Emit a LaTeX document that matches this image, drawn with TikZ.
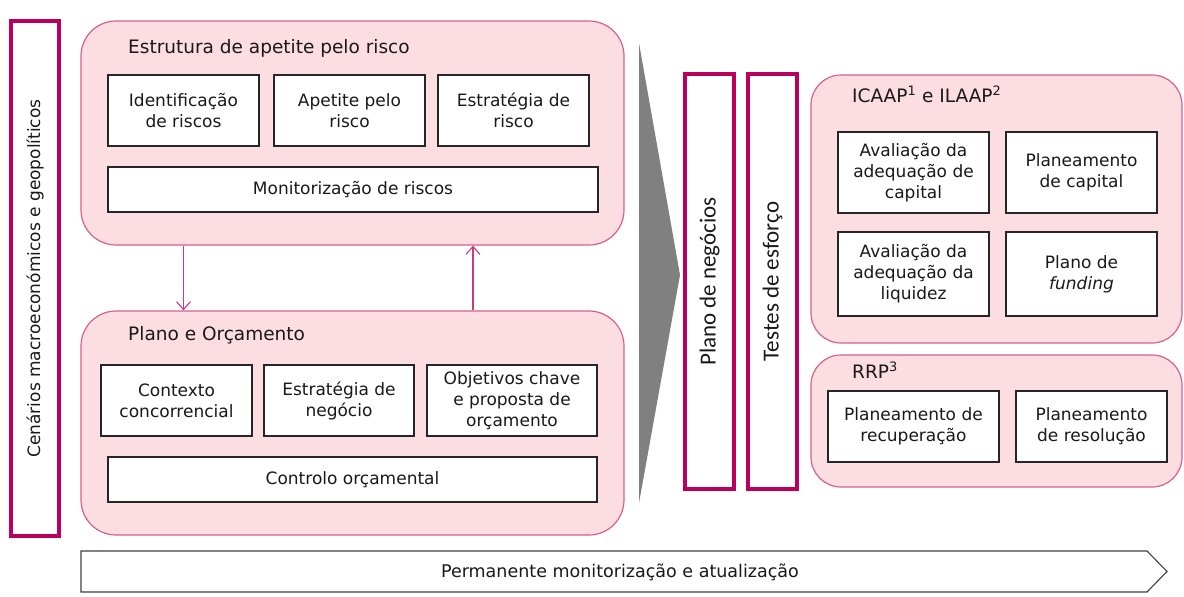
\documentclass[tikz,border=0pt]{standalone}
\usepackage{fontspec}
\setmainfont{DejaVu Sans}
\newfontfamily\calib{Carlito}
\usetikzlibrary{arrows.meta}
\definecolor{mag}{RGB}{185,0,95}
\definecolor{pinkfill}{RGB}{252,221,226}
\definecolor{pinkline}{RGB}{212,98,138}
\definecolor{flowcol}{RGB}{200,60,125}
\definecolor{txt}{RGB}{25,25,25}
\definecolor{gtri}{RGB}{128,128,128}
\begin{document}
\begin{tikzpicture}[x=1pt,y=-1pt,
  every node/.style={text=txt},
  group/.style={draw=pinkline, fill=pinkfill, line width=1.2pt, rounded corners=35pt, inner sep=0pt},
  rgroup/.style={group, rounded corners=30pt},
  item/.style={draw=black!85, fill=white, line width=1.3pt, align=center, inner sep=0pt,
    font=\fontsize{17}{21}\selectfont},
  vbar/.style={draw=mag, line width=4pt, fill=white, inner sep=0pt},
  gtitle/.style={anchor=base west, inner sep=0pt, font=\fontsize{18.5}{22}\selectfont},
  vlabel/.style={rotate=90, inner sep=0pt},
  flow/.style={draw=flowcol, line width=1.1pt, -{Straight Barb[length=8pt,width=14pt,line width=1.1pt]}}]
\useasboundingbox (0,0) rectangle (1184,597);

% left bar
\node[vbar, minimum width=48pt, minimum height=515pt] (cen) at (35,278.5) {};
\node[vlabel, font=\fontsize{17}{20}\selectfont] (cenl) at (cen.center) {Cenários macroeconómicos e geopolíticos};

% top group
\node[group, minimum width=543pt, minimum height=224pt] (top) at (352.5,133) {};
\node[gtitle] (toptitle) at (128,53) {Estrutura de apetite pelo risco};
\node[item, minimum width=151pt, minimum height=71pt] (idr) at (183.5,110.5) {Identificação\\de riscos};
\node[item, minimum width=151pt, minimum height=71pt] (apr) at (349.5,110.5) {Apetite pelo\\risco};
\node[item, minimum width=151pt, minimum height=71pt] (esr) at (513.5,110.5) {Estratégia de\\risco};
\node[item, minimum width=490pt, minimum height=45pt] (mon) at (353,189.5) {Monitorização de riscos};

% bottom group
\node[group, minimum width=543pt, minimum height=224pt] (bot) at (352.5,423) {};
\node[gtitle] (bottitle) at (128,340) {Plano e Orçamento};
\node[item, minimum width=151pt, minimum height=71pt] (ctx) at (176.5,400.5) {Contexto\\concorrencial};
\node[item, minimum width=150pt, minimum height=71pt] (esn) at (339,400.5) {Estratégia de\\negócio};
\node[item, minimum width=170pt, minimum height=71pt] (obj) at (512,400.5) {Objetivos chave\\e proposta de\\orçamento};
\node[item, minimum width=489pt, minimum height=45pt] (ctl) at (352.5,479.5) {Controlo orçamental};

% arrows between groups
\coordinate (ua) at (473,0);
\draw[flow] (idr.south |- top.south) -- (idr.south |- bot.north);
\draw[flow] (ua |- bot.north) -- (ua |- top.south);

% grey triangle
\fill[gtri] (639,43) -- (680,275) -- (639,503) -- cycle;

% vertical bars
\node[vbar, minimum width=49pt, minimum height=415pt] (pn) at (709.5,281.5) {};
\node[vlabel, font=\calib\fontsize{23}{26}\selectfont] (pnl) at (pn.center) {Plano de negócios};
\node[vbar, minimum width=49pt, minimum height=415pt] (te) at (772.5,281.5) {};
\node[vlabel, font=\calib\fontsize{23}{26}\selectfont] (tel) at (te.center) {Testes de esforço};

% ICAAP group
\node[rgroup, minimum width=371pt, minimum height=268pt] (icaap) at (996.5,209) {};
\node[gtitle] (ictitle) at (852,102) {ICAAP\textsuperscript{1} e ILAAP\textsuperscript{2}};
\node[item, minimum width=151pt, minimum height=81pt] (avc) at (913.5,172.5) {Avaliação da\\adequação de\\capital};
\node[item, minimum width=151pt, minimum height=81pt] (plc) at (1081.5,172.5) {Planeamento\\de capital};
\node[item, minimum width=151pt, minimum height=84pt] (avl) at (913.5,274) {Avaliação da\\adequação da\\liquidez};
\node[item, minimum width=151pt, minimum height=84pt] (plf) at (1081.5,274) {Plano de\\\textit{funding}};

% RRP group
\node[rgroup, minimum width=371pt, minimum height=132pt] (rrp) at (996.5,421) {};
\node[gtitle] (rrptitle) at (852,378) {RRP\textsuperscript{3}};
\node[item, minimum width=171pt, minimum height=71pt] (rec) at (913.5,426.5) {Planeamento de\\recuperação};
\node[item, minimum width=151pt, minimum height=71pt] (res) at (1091.5,426.5) {Planeamento\\de resolução};

% bottom arrow
\draw[draw=black!75, line width=1.1pt, fill=white] (81,551) -- (1147,551) -- (1167,571.5) -- (1147,592) -- (81,592) -- cycle;
\node[font=\fontsize{17.5}{20}\selectfont, inner sep=0pt] (perm) at (620,572) {Permanente monitorização e atualização};
\end{tikzpicture}
\end{document}
